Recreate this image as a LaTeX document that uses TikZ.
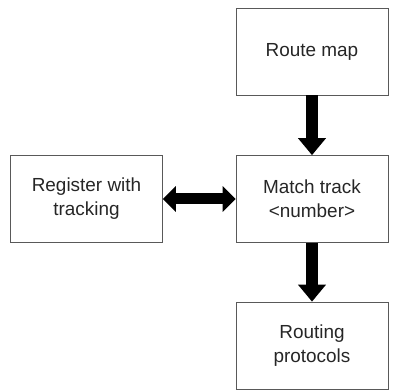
\documentclass[tikz,border=0pt]{standalone}
\usepackage{fontspec}
\setmainfont{Liberation Sans}
\usetikzlibrary{arrows.meta}
\begin{document}
\begin{tikzpicture}[x=1bp,y=1bp,
  box/.style={draw=black!65, line width=0.7bp, minimum width=152bp, minimum height=87bp,
    inner sep=0pt, align=center, font=\fontsize{19}{24}\selectfont, text=black!85},
  fat/.style={line width=12bp, draw=black, -{Triangle[width=27bp,length=17bp]}},
  fatboth/.style={line width=11bp, draw=black, {Triangle[width=25bp,length=13bp]}-{Triangle[width=25bp,length=13bp]}}]
\useasboundingbox (0,0) rectangle (398,392);
\node[box] (rm) at (312,340.5) {Route map};
\node[box] (mt) at (312,193) {Match track\\<number>};
\node[box] (rg) at (86.5,193) {Register with\\tracking};
\node[box] (rp) at (312,46.5) {Routing\\protocols};
\draw[fat] (rm.south) -- (mt.north);
\draw[fat] (mt.south) -- (rp.north);
\draw[fatboth] (rg.east) -- (mt.west);
\end{tikzpicture}
\end{document}
